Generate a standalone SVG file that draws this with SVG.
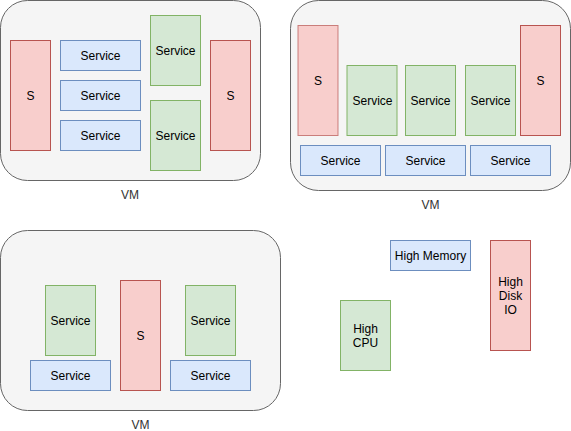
<svg xmlns="http://www.w3.org/2000/svg" width="571" height="431" viewBox="0 0 571 431">
<style>
text{font-family:"Liberation Sans",Arial,sans-serif;font-size:12px;text-anchor:middle;dominant-baseline:central;fill:#000}
.vm{fill:#f5f5f5;stroke:#666666;stroke-width:1}
.vml{fill:#333333}
.r{fill:#f8cecc;stroke:#b85450;stroke-width:1}
.b{fill:#dae8fc;stroke:#6c8ebf;stroke-width:1}
.g{fill:#d5e8d4;stroke:#82b366;stroke-width:1}
</style>
<rect width="571" height="431" fill="#ffffff"/>
<g id="vm1">
<rect class="vm" x="0.5" y="0.5" width="260" height="180" rx="27" ry="27"/>
<text class="vml" x="130" y="195">VM</text>
</g>
<g id="vm1-s-left"><rect class="r" x="10.5" y="40.5" width="40" height="110"/><text x="30.5" y="95.5">S</text></g>
<g id="vm1-svc-b1"><rect class="b" x="60.5" y="40.5" width="80" height="30"/><text x="100.5" y="55.5">Service</text></g>
<g id="vm1-svc-b2"><rect class="b" x="60.5" y="80.5" width="80" height="30"/><text x="100.5" y="95.5">Service</text></g>
<g id="vm1-svc-b3"><rect class="b" x="60.5" y="120.5" width="80" height="30"/><text x="100.5" y="135.5">Service</text></g>
<g id="vm1-svc-g1"><rect class="g" x="150.5" y="15.5" width="50" height="70"/><text x="175.5" y="50.5">Service</text></g>
<g id="vm1-svc-g2"><rect class="g" x="150.5" y="100.5" width="50" height="70"/><text x="175.5" y="135.5">Service</text></g>
<g id="vm1-s-right"><rect class="r" x="210.5" y="40.5" width="40" height="110"/><text x="230.5" y="95.5">S</text></g>

<g id="vm2">
<rect class="vm" x="290.5" y="0.5" width="280" height="190" rx="28" ry="28"/>
<text class="vml" x="430.5" y="205">VM</text>
</g>
<g id="vm2-s-left"><rect class="r" x="298" y="25.5" width="40" height="110" stroke-opacity="0.7"/><text x="318" y="80.5">S</text></g>
<g id="vm2-svc-g1"><rect class="g" x="347" y="65.5" width="50" height="70"/><text x="372.5" y="100.5">Service</text></g>
<g id="vm2-svc-g2"><rect class="g" x="405.5" y="65.5" width="50" height="70"/><text x="430.5" y="100.5">Service</text></g>
<g id="vm2-svc-g3"><rect class="g" x="465.5" y="65.5" width="50" height="70"/><text x="490.5" y="100.5">Service</text></g>
<g id="vm2-s-right"><rect class="r" x="520.5" y="25.5" width="40" height="110"/><text x="540.5" y="80.5">S</text></g>
<g id="vm2-svc-b1"><rect class="b" x="300.5" y="145.5" width="80" height="30"/><text x="340.5" y="160.5">Service</text></g>
<g id="vm2-svc-b2"><rect class="b" x="385.5" y="145.5" width="80" height="30"/><text x="425.5" y="160.5">Service</text></g>
<g id="vm2-svc-b3"><rect class="b" x="470.5" y="145.5" width="80" height="30"/><text x="510.5" y="160.5">Service</text></g>

<g id="vm3">
<rect class="vm" x="0.5" y="230.5" width="280" height="180" rx="27" ry="27"/>
<text class="vml" x="140.5" y="425">VM</text>
</g>
<g id="vm3-svc-g1"><rect class="g" x="45.5" y="285.5" width="50" height="70"/><text x="70.5" y="320.5">Service</text></g>
<g id="vm3-svc-b1"><rect class="b" x="30.5" y="360.5" width="80" height="30"/><text x="70.5" y="375.5">Service</text></g>
<g id="vm3-s"><rect class="r" x="120.5" y="280.5" width="40" height="110"/><text x="140.5" y="335.5">S</text></g>
<g id="vm3-svc-g2"><rect class="g" x="185.5" y="285.5" width="50" height="70"/><text x="210.5" y="320.5">Service</text></g>
<g id="vm3-svc-b2"><rect class="b" x="170.5" y="360.5" width="80" height="30"/><text x="210.5" y="375.5">Service</text></g>

<g id="legend-memory"><rect class="b" x="390.5" y="240.5" width="80" height="30"/><text x="430.5" y="255.5">High Memory</text></g>
<g id="legend-cpu"><rect class="g" x="340.5" y="300.5" width="50" height="70"/><text x="365.5" y="328.5">High</text><text x="365.5" y="342.5">CPU</text></g>
<g id="legend-disk"><rect class="r" x="490.5" y="240.5" width="40" height="110"/><text x="510.5" y="281.5">High</text><text x="510.5" y="295.5">Disk</text><text x="510.5" y="309.5">IO</text></g>
<g id="connectors"></g>
</svg>
